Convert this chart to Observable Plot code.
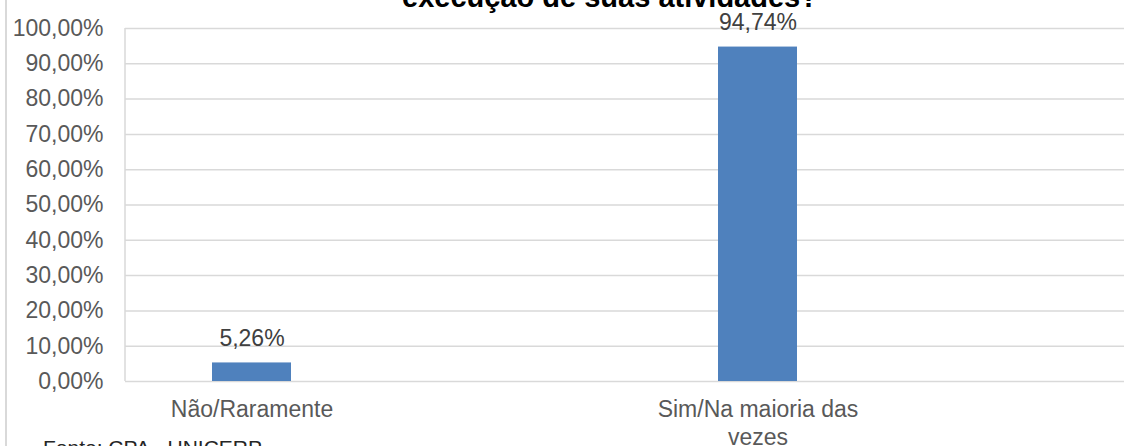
<!DOCTYPE html>
<html>
<head>
<meta charset="utf-8">
<script src="https://cdn.jsdelivr.net/npm/d3@7"></script>
<script src="https://cdn.jsdelivr.net/npm/@observablehq/plot@0.6"></script>
<style>
  html, body { margin: 0; padding: 0; background: #fff; }
  #wrap { position: relative; width: 1124px; height: 446px; overflow: hidden; font-family: "Liberation Sans", Arial, sans-serif; }
  #border { position: absolute; left: 5px; top: 0; width: 2px; height: 446px; background: #d9d9d9; }
  #title { position: absolute; left: 0; width: 1220px; top: -17.5px; text-align: center; font-size: 29px; line-height: 29px; font-weight: bold; color: #000; white-space: nowrap; }
  #caption { position: absolute; left: 43px; top: 437px; font-size: 21px; line-height: 21px; color: #262626; white-space: nowrap; }
  #plot { position: absolute; left: 0; top: 0; }
</style>
</head>
<body>
<div id="wrap">
  <div id="border"></div>
  <div id="plot"></div>
  <div id="title">execução de suas atividades?</div>
  <div id="caption">Fonte: CPA - UNICERP</div>
</div>
<script>
const categories = ["Não/Raramente", "Sim/Na maioria das vezes"];
const values = [0.0526, 0.9474];
const valueLabels = ["5,26%", "94,74%"];
const xSlots = [categories[0], "slot-vazio-1", categories[1], "slot-vazio-2"];
const yTicks = [0, 0.1, 0.2, 0.3, 0.4, 0.5, 0.6, 0.7, 0.8, 0.9, 1.0];

const data = categories.map((c, i) => ({category: c, value: values[i], label: valueLabels[i]}));

const pct = d => (d * 100).toFixed(2).replace(".", ",") + "%";
const wrapLabel = d => {
  if (!categories.includes(d)) return "";
  if (d.length > 18) {
    const k = d.lastIndexOf(" ");
    return d.slice(0, k) + "\n" + d.slice(k + 1);
  }
  return d;
};

// vertical value-axis line drawn at the left edge of the plot frame
const leftAxisLine = (index, scales, values, dims) => {
  const ns = "http://www.w3.org/2000/svg";
  const line = document.createElementNS(ns, "line");
  const x0 = dims.marginLeft;
  line.setAttribute("x1", x0);
  line.setAttribute("x2", x0);
  line.setAttribute("y1", scales.y(1));
  line.setAttribute("y2", scales.y(0));
  line.setAttribute("stroke", "#d9d9d9");
  line.setAttribute("stroke-width", 1.5);
  return line;
};

const chart = Plot.plot({
  width: 1124,
  height: 446,
  marginLeft: 125,
  marginRight: 0,
  marginTop: 28,
  marginBottom: 65,
  style: {fontFamily: "'Liberation Sans', Arial, sans-serif", fontSize: "23px", color: "#595959", background: "transparent", overflow: "visible"},
  x: {domain: xSlots, range: [125, 1137], paddingInner: 0.688, paddingOuter: 0.344, axis: null, label: null},
  y: {domain: [0, 1], axis: null, label: null},
  marks: [
    Plot.gridY(yTicks, {stroke: "#d9d9d9", strokeOpacity: 1, strokeWidth: 1.5}),
    leftAxisLine,
    Plot.barY(data, {x: "category", y: "value", fill: "#4f81bd"}),
    Plot.text(data, {x: "category", y: "value", text: "label", lineAnchor: "bottom", dy: -17, fill: "#404040", fontSize: 23}),
    Plot.axisY(yTicks, {tickSize: 0, tickPadding: 22, tickFormat: pct, fill: "#595959", fontSize: 23, label: null}),
    Plot.axisX({tickSize: 0, tickPadding: 16, tickFormat: wrapLabel, lineHeight: 1.2, fill: "#595959", fontSize: 23, label: null})
  ]
});
document.getElementById("plot").appendChild(chart);
</script>
</body>
</html>
